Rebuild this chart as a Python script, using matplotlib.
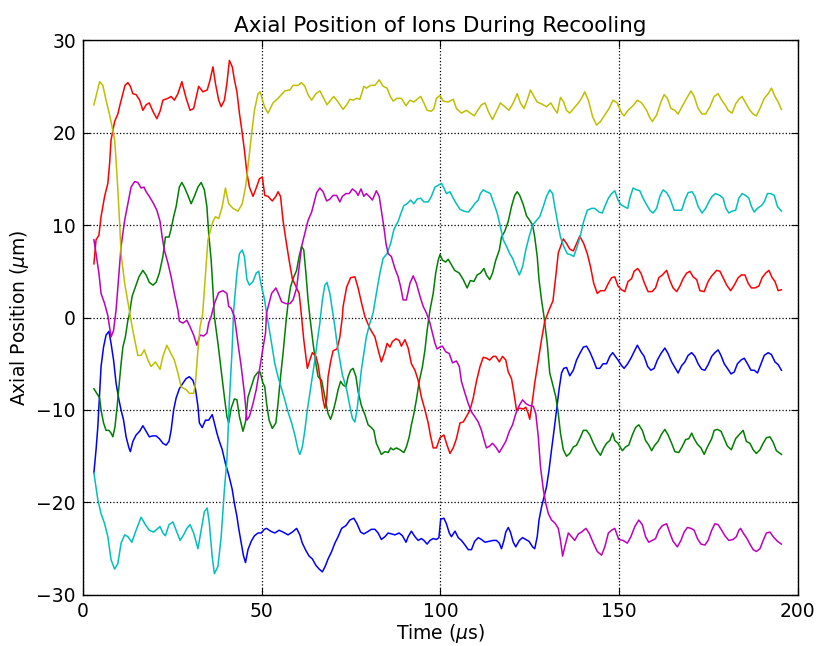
import numpy as np
import matplotlib
matplotlib.use('Agg')
import matplotlib.pyplot as plt

# Axial position of six ions during recooling

t_blue = [3.1, 3.7, 4.2, 4.7, 5.1, 5.8, 6.5, 7.3, 7.9, 8.6, 9.3, 10.1, 10.7, 11.4, 12.1, 12.9, 13.3, 14.0, 14.9, 15.9,
          16.8, 17.7, 18.6, 19.6, 20.5, 21.4, 22.4, 23.3, 24.1, 24.7, 25.4, 26.1, 27.0, 28.0, 28.9, 29.8, 30.8, 31.5,
          32.2, 32.6, 33.4, 34.3, 35.2, 36.2, 36.8, 37.5, 38.2, 39.0, 39.9, 40.8, 41.8, 42.4, 43.1, 43.6, 44.3, 44.9,
          45.5, 46.2, 47.1, 48.0, 49.0, 49.9, 50.8, 51.4, 52.5, 53.7, 54.9, 56.0, 57.4, 58.6, 59.8, 60.7, 61.4, 62.4,
          63.3, 64.2, 65.2, 66.1, 67.0, 67.8, 68.6, 69.6, 70.5, 71.4, 72.4, 73.6, 74.7, 75.8, 76.7, 77.7, 78.6, 79.5,
          80.7, 81.7, 82.6, 83.5, 84.5, 85.4, 86.3, 87.3, 88.5, 89.4, 90.4, 91.0, 91.9, 92.9, 93.8, 94.7, 95.4, 96.3,
          97.1, 98.0, 98.9, 99.6, 100.1, 101.0, 101.7, 102.5, 103.1, 104.1, 105.0, 105.9, 106.9, 107.8, 108.7, 109.6,
          110.6, 111.5, 112.5, 113.7, 114.8, 115.7, 116.5, 117.1, 117.8, 118.3, 119.0, 119.6, 120.4, 121.1, 122.1,
          123.0, 123.9, 124.8, 125.8, 126.4, 127.1, 127.6, 128.3, 129.0, 129.7, 130.4, 131.1, 131.8, 132.5, 133.2,
          133.9, 134.5, 135.3, 136.2, 137.2, 138.1, 139.0, 140.0, 140.9, 141.8, 142.8, 143.7, 144.6, 145.5, 146.5,
          147.4, 148.2, 149.7, 150.7, 151.4, 152.4, 153.3, 154.2, 155.1, 156.1, 157.0, 158.0, 158.9, 159.8, 160.7,
          161.7, 162.8, 163.7, 164.7, 165.6, 166.5, 167.5, 168.4, 169.3, 170.3, 171.2, 172.1, 173.1, 174.0, 174.9,
          175.9, 176.8, 177.7, 178.5, 179.4, 180.3, 181.3, 182.2, 183.1, 184.1, 185.0, 185.9, 186.9, 187.8, 188.7,
          189.6, 190.6, 191.7, 192.6, 193.6, 194.5, 195.4]
y_blue = [-16.8, -14.3, -11.8, -8.2, -5.3, -3.2, -1.9, -1.5, -2.8, -4.6, -7.1, -8.9, -10.0, -11.1, -12.9, -14.1, -14.5,
          -13.4, -12.7, -12.3, -11.7, -12.3, -12.9, -12.8, -12.8, -13.1, -13.6, -13.8, -13.4, -12.2, -10.0, -8.7, -7.7,
          -7.1, -6.6, -6.4, -6.8, -7.7, -9.6, -11.4, -11.9, -11.1, -11.1, -10.5, -11.4, -12.5, -13.4, -14.3, -15.8,
          -17.0, -18.6, -20.1, -21.5, -22.8, -24.4, -25.7, -26.5, -25.1, -24.2, -23.6, -23.3, -23.3, -22.9, -22.8,
          -23.1, -23.3, -23.0, -23.2, -23.5, -23.2, -22.8, -23.5, -24.4, -25.2, -25.8, -26.1, -26.8, -27.2, -27.5,
          -26.9, -26.1, -25.3, -24.4, -23.7, -22.8, -22.5, -21.9, -21.7, -22.3, -23.2, -23.4, -23.2, -22.9, -22.9,
          -23.3, -24.0, -23.7, -23.3, -23.4, -23.5, -23.3, -23.6, -24.3, -23.7, -23.1, -23.7, -24.1, -23.9, -24.1,
          -24.5, -24.1, -23.9, -24.0, -23.8, -21.8, -21.7, -22.3, -23.3, -23.7, -23.1, -23.8, -24.1, -24.6, -25.1,
          -25.1, -24.2, -23.8, -24.0, -24.3, -24.2, -24.1, -24.1, -24.4, -25.0, -24.1, -23.2, -22.7, -23.2, -24.3,
          -24.8, -24.1, -23.8, -24.0, -24.2, -24.8, -25.0, -23.7, -21.9, -20.5, -19.4, -18.3, -16.5, -14.3, -12.2,
          -10.0, -7.8, -6.0, -5.5, -5.4, -6.3, -5.7, -4.6, -3.9, -3.2, -3.1, -3.7, -4.6, -5.5, -5.5, -5.0, -5.0, -4.2,
          -3.8, -4.6, -5.2, -5.5, -5.0, -4.4, -3.7, -3.0, -3.7, -4.2, -5.3, -5.7, -5.5, -4.6, -3.9, -3.3, -3.9, -4.8,
          -5.4, -6.0, -5.2, -4.8, -4.1, -3.8, -4.2, -5.0, -5.6, -5.7, -5.1, -4.2, -3.8, -3.5, -4.1, -5.0, -5.5, -6.1,
          -5.9, -5.0, -4.6, -4.4, -5.0, -5.7, -5.7, -6.0, -5.1, -4.1, -3.8, -4.0, -4.8, -5.1, -5.7]

t_green = [3.1, 3.9, 4.7, 5.1, 5.8, 6.5, 7.3, 7.9, 8.4, 9.0, 9.6, 10.1, 10.7, 11.2, 11.9, 12.6, 12.9, 13.8, 14.7, 15.7,
           16.8, 17.7, 18.6, 19.6, 20.5, 21.4, 22.4, 23.1, 24.1, 24.7, 25.4, 26.1, 27.0, 27.7, 28.4, 29.4, 30.3, 31.2,
           32.2, 33.1, 34.0, 34.7, 35.2, 35.9, 36.4, 36.8, 37.8, 38.7, 39.6, 40.3, 40.8, 41.5, 42.4, 43.1, 43.8, 44.8,
           45.5, 46.2, 47.1, 48.0, 49.0, 49.6, 50.3, 50.9, 51.4, 52.1, 53.0, 54.0, 54.6, 55.3, 56.0, 56.8, 57.4, 58.1,
           58.8, 59.8, 60.5, 61.2, 61.8, 62.4, 63.0, 63.5, 64.4, 65.2, 65.8, 66.8, 67.7, 68.6, 69.3, 70.0, 70.8, 71.4,
           72.1, 72.8, 73.6, 74.2, 74.9, 75.6, 76.4, 77.0, 77.9, 78.9, 79.8, 80.7, 81.4, 82.1, 82.9, 83.5, 84.5, 85.4,
           86.1, 86.8, 87.7, 88.7, 89.8, 90.5, 91.3, 91.9, 92.6, 93.3, 94.1, 95.0, 95.7, 96.3, 97.1, 98.0, 98.7, 99.4,
           99.9, 100.6, 101.5, 102.2, 103.1, 104.0, 105.3, 106.4, 107.5, 108.4, 109.4, 110.3, 111.2, 112.2, 112.9,
           113.8, 114.6, 115.5, 116.5, 117.1, 118.0, 119.0, 119.9, 120.8, 121.5, 122.2, 123.2, 124.1, 125.0, 125.8,
           126.4, 127.1, 127.6, 128.3, 129.0, 129.9, 130.6, 131.6, 132.3, 133.0, 133.6, 134.4, 135.3, 136.2, 137.2,
           138.1, 139.0, 140.0, 140.9, 141.8, 142.8, 143.7, 144.8, 145.7, 146.5, 147.4, 148.2, 148.8, 149.7, 150.9,
           151.8, 152.7, 153.7, 154.6, 155.5, 156.5, 157.4, 158.3, 159.1, 160.0, 160.9, 161.9, 162.8, 163.7, 164.7,
           165.6, 166.7, 167.6, 168.6, 169.5, 170.3, 171.0, 171.9, 172.9, 173.8, 174.7, 175.9, 176.6, 177.5, 178.5,
           179.4, 180.3, 181.4, 182.6, 183.5, 184.7, 185.6, 186.6, 187.5, 188.4, 189.4, 190.3, 191.2, 192.2, 193.1,
           194.0, 195.4]
y_green = [-7.7, -8.2, -8.7, -10.0, -11.4, -12.2, -12.2, -12.5, -12.9, -11.8, -9.6, -7.5, -5.0, -3.2, -2.1, -0.3, 0.1,
           2.3, 3.3, 4.4, 5.1, 4.6, 3.8, 3.5, 3.8, 4.8, 6.6, 8.7, 8.7, 9.6, 10.9, 12.0, 14.1, 14.6, 14.1, 13.2, 12.3,
           13.1, 14.1, 14.6, 13.8, 12.0, 9.1, 6.2, 3.0, 0.1, -2.8, -5.7, -8.6, -10.7, -11.4, -9.8, -8.8, -8.9, -10.7,
           -12.3, -11.3, -8.6, -7.5, -6.4, -5.9, -5.9, -7.0, -7.5, -9.3, -11.1, -12.0, -11.4, -9.3, -6.4, -3.9, -0.6,
           1.5, 3.3, 4.2, 5.1, 6.6, 7.7, 7.3, 4.8, 1.9, 0.1, -2.8, -5.0, -6.4, -6.8, -8.6, -10.4, -11.0, -10.2, -8.9,
           -7.8, -6.9, -7.3, -7.5, -6.4, -5.7, -5.5, -6.4, -8.0, -9.5, -10.5, -11.6, -11.9, -12.2, -13.6, -14.3, -14.8,
           -14.5, -14.6, -14.1, -14.3, -14.1, -14.3, -14.6, -14.0, -12.9, -11.6, -10.4, -8.9, -6.9, -5.3, -3.5, -1.4,
           0.8, 2.6, 4.8, 6.2, 6.8, 6.2, 6.0, 6.3, 5.7, 5.1, 4.8, 4.1, 3.2, 4.0, 3.9, 4.6, 4.8, 5.3, 4.6, 4.1, 4.8,
           6.2, 7.3, 8.7, 9.3, 10.4, 12.0, 13.2, 13.6, 13.2, 12.2, 11.0, 10.5, 10.0, 8.7, 6.6, 4.1, 1.9, 0.1, -2.8,
           -6.0, -7.5, -8.6, -10.4, -12.5, -14.3, -15.0, -14.7, -14.0, -13.8, -13.1, -12.2, -12.2, -12.7, -13.6, -14.3,
           -14.9, -14.1, -13.6, -13.3, -12.5, -13.3, -13.6, -14.4, -14.0, -13.8, -12.7, -11.9, -11.6, -12.2, -13.3,
           -13.8, -14.4, -13.8, -13.4, -12.6, -12.1, -12.7, -13.6, -14.5, -14.6, -14.0, -13.2, -13.1, -12.5, -13.1,
           -13.7, -14.1, -14.8, -14.0, -13.1, -12.2, -12.1, -12.3, -13.1, -13.9, -14.3, -13.1, -12.7, -12.2, -13.4,
           -13.6, -14.3, -14.7, -14.3, -13.6, -13.0, -12.9, -13.5, -14.4, -14.8]

t_red = [3.1, 3.7, 4.5, 5.1, 6.1, 7.0, 7.5, 7.9, 8.9, 9.8, 10.4, 11.2, 11.8, 12.6, 13.3, 14.0, 14.9, 15.9, 16.8, 17.7,
         18.6, 19.6, 20.7, 21.6, 22.4, 23.8, 24.7, 25.6, 26.6, 27.7, 28.9, 30.0, 31.0, 32.4, 33.6, 34.8, 35.6, 36.4,
         37.1, 38.0, 38.7, 39.6, 40.3, 41.0, 41.8, 42.4, 43.1, 43.8, 44.6, 45.2, 45.9, 46.6, 47.6, 48.5, 49.4, 50.2,
         50.9, 51.8, 53.0, 54.0, 54.6, 55.3, 56.0, 56.8, 57.7, 58.6, 59.8, 60.5, 60.9, 61.2, 61.8, 62.8, 63.5, 64.2,
         65.2, 65.8, 66.5, 67.2, 67.7, 68.2, 68.6, 69.3, 70.0, 71.1, 71.9, 72.6, 72.8, 73.8, 74.9, 76.1, 77.0, 78.0,
         78.9, 80.3, 81.7, 82.6, 83.5, 84.5, 85.1, 85.9, 86.6, 87.6, 88.5, 89.1, 90.1, 91.0, 91.9, 92.9, 93.8, 94.7,
         95.7, 96.6, 97.2, 98.0, 98.9, 99.9, 101.0, 101.7, 102.7, 103.6, 104.5, 105.5, 106.4, 107.3, 108.3, 109.2,
         110.1, 111.1, 112.0, 112.9, 113.8, 114.8, 115.5, 116.5, 117.4, 118.3, 119.0, 119.9, 120.6, 121.3, 122.2,
         123.2, 123.9, 124.6, 125.0, 125.8, 126.4, 127.4, 128.3, 129.2, 130.5, 131.5, 132.3, 133.0, 134.4, 135.3,
         136.2, 137.2, 138.1, 139.0, 140.1, 141.1, 142.0, 142.9, 143.9, 144.8, 146.0, 147.0, 147.9, 148.8, 149.7,
         150.7, 151.6, 152.5, 153.5, 154.2, 155.2, 156.1, 157.0, 158.1, 159.2, 160.2, 161.1, 162.1, 163.3, 164.2,
         165.1, 166.1, 167.0, 167.9, 168.9, 169.8, 170.7, 171.7, 172.6, 173.8, 174.9, 175.9, 177.3, 178.2, 179.1,
         180.1, 181.2, 182.2, 183.3, 184.2, 185.2, 186.1, 187.0, 188.0, 189.1, 190.0, 191.0, 191.9, 192.8, 193.6,
         194.5, 195.4]
y_red = [5.8, 8.4, 8.9, 10.9, 13.1, 14.5, 16.7, 19.2, 21.2, 22.0, 23.0, 24.2, 25.1, 25.4, 25.0, 24.2, 24.1, 23.5, 22.4,
         23.0, 23.2, 22.3, 21.5, 22.3, 23.5, 23.7, 23.9, 23.5, 24.2, 25.5, 23.7, 22.4, 22.6, 25.0, 24.4, 24.6, 25.7,
         27.1, 25.3, 23.5, 22.8, 23.5, 25.3, 27.8, 27.1, 25.7, 24.4, 22.1, 19.9, 18.1, 15.6, 14.1, 13.1, 14.0, 15.0,
         15.2, 13.2, 13.1, 12.6, 13.1, 13.6, 13.1, 10.5, 8.4, 6.2, 4.2, 3.2, 2.6, 1.2, 0.0, -2.4, -5.5, -4.6, -3.8,
         -4.2, -5.1, -6.9, -8.9, -9.8, -8.9, -6.4, -4.8, -3.6, -3.4, -2.1, 0.1, 1.2, 3.3, 4.3, 4.4, 3.2, 1.5, 0.1,
         -1.2, -2.1, -3.5, -4.8, -3.7, -2.8, -3.2, -2.6, -2.3, -2.5, -3.1, -2.4, -3.3, -5.0, -5.7, -6.8, -8.6, -10.0,
         -11.4, -12.7, -14.1, -14.1, -13.0, -12.7, -13.6, -14.7, -14.1, -13.1, -11.4, -11.3, -10.7, -10.0, -8.7,
         -6.9, -5.3, -4.3, -4.4, -4.6, -4.2, -4.2, -4.8, -4.2, -4.6, -5.9, -6.6, -8.2, -10.0, -9.8, -9.9, -9.7,
         -10.4, -11.0, -8.9, -7.1, -4.6, -2.4, -0.4, 0.9, 1.8, 4.5, 7.0, 8.5, 8.0, 7.4, 7.2, 8.0, 8.8, 8.0, 6.9,
         5.5, 3.7, 2.6, 2.9, 2.9, 3.7, 4.3, 4.4, 3.4, 3.0, 2.8, 3.9, 4.2, 5.0, 5.3, 4.8, 3.8, 2.8, 2.8, 3.2, 4.3,
         4.6, 5.1, 4.0, 3.2, 2.8, 3.4, 4.2, 4.8, 5.0, 4.4, 4.1, 2.9, 2.8, 3.9, 4.5, 5.1, 5.0, 4.3, 3.5, 2.9, 3.5,
         4.3, 4.6, 4.6, 3.7, 3.2, 3.2, 3.4, 4.3, 4.8, 5.1, 4.3, 3.9, 2.9, 3.0]

t_cyan = [3.1, 4.2, 5.1, 6.1, 7.0, 7.9, 8.9, 9.8, 10.7, 11.7, 12.6, 13.7, 14.9, 16.3, 17.5, 18.6, 19.8, 21.0, 21.6,
          22.4, 23.1, 24.1, 25.2, 26.1, 27.2, 28.2, 29.1, 30.0, 31.0, 32.2, 33.1, 34.0, 34.8, 35.4, 36.2, 36.8, 37.8,
          38.7, 39.6, 40.3, 41.0, 41.7, 42.2, 43.1, 43.8, 44.6, 45.2, 45.9, 46.6, 47.6, 48.5, 49.2, 49.9, 50.8, 51.6,
          52.8, 53.7, 54.6, 55.6, 56.5, 57.4, 58.4, 59.3, 60.2, 60.7, 61.4, 62.1, 62.8, 63.5, 64.2, 64.9, 65.5, 66.3,
          67.0, 67.7, 68.3, 69.1, 69.8, 70.5, 71.1, 71.9, 72.6, 73.3, 73.9, 74.7, 75.4, 76.1, 76.7, 77.3, 77.9, 78.6,
          79.3, 80.3, 81.2, 82.1, 83.1, 84.0, 85.1, 86.1, 87.0, 88.2, 89.1, 89.8, 90.7, 91.7, 92.6, 93.5, 94.5, 95.4,
          96.6, 97.5, 98.5, 99.4, 100.3, 101.0, 101.7, 102.7, 103.6, 104.5, 105.5, 106.6, 107.8, 108.7, 109.6, 110.6,
          111.2, 112.0, 112.9, 114.0, 115.0, 115.9, 116.8, 117.6, 118.5, 119.4, 120.2, 121.1, 122.1, 123.0, 123.9,
          124.8, 125.8, 126.9, 127.8, 128.8, 129.7, 130.6, 131.4, 132.0, 132.7, 133.6, 134.5, 135.5, 136.4, 137.3,
          138.3, 139.2, 140.1, 141.1, 142.3, 143.2, 144.4, 145.3, 146.0, 147.0, 147.9, 148.8, 149.7, 150.5, 151.4,
          152.4, 153.0, 153.9, 154.9, 155.8, 156.7, 157.7, 158.6, 159.5, 160.5, 161.4, 162.3, 163.3, 164.2, 165.4,
          166.5, 167.5, 168.4, 169.3, 170.4, 171.2, 172.1, 173.2, 174.2, 175.1, 176.0, 177.0, 178.2, 179.1, 179.9,
          180.7, 181.6, 182.6, 183.5, 184.4, 185.4, 186.3, 187.0, 187.8, 188.7, 189.8, 190.6, 191.5, 192.4, 193.4,
          194.3, 195.4]
y_cyan = [-16.8, -19.7, -21.2, -22.3, -23.7, -26.2, -27.2, -26.6, -24.4, -23.5, -23.7, -24.3, -23.0, -21.6, -22.4,
          -23.0, -23.2, -22.8, -22.6, -23.3, -23.6, -22.4, -22.1, -23.0, -24.1, -23.5, -22.8, -22.4, -23.3, -25.0,
          -23.0, -21.0, -20.6, -22.3, -25.9, -27.7, -26.9, -23.7, -18.6, -15.4, -8.9, -3.9, 0.8, 4.8, 6.9, 7.3, 6.6,
          4.1, 3.5, 3.9, 4.8, 5.0, 3.5, 2.0, 0.0, -2.8, -5.0, -6.4, -7.7, -8.9, -10.2, -11.4, -12.7, -14.3, -14.8,
          -14.0, -12.2, -10.0, -8.2, -6.4, -4.6, -2.8, -0.6, 1.9, 3.5, 3.8, 2.6, 0.8, -1.0, -2.8, -4.6, -6.2, -7.1,
          -8.0, -9.6, -10.9, -11.3, -10.0, -7.8, -5.7, -3.9, -2.1, -0.6, 0.5, 2.6, 4.8, 6.4, 6.9, 8.0, 9.5, 10.4,
          11.4, 12.1, 12.3, 12.7, 12.3, 12.8, 12.9, 12.5, 12.5, 13.1, 14.1, 14.3, 14.5, 14.0, 13.4, 13.6, 12.9, 12.3,
          11.7, 11.5, 11.4, 11.8, 12.3, 12.7, 13.4, 13.8, 13.6, 13.4, 12.3, 11.3, 9.8, 8.4, 7.7, 6.9, 6.4, 5.5, 4.6,
          5.5, 7.3, 8.7, 10.0, 10.5, 10.9, 12.0, 13.1, 13.8, 13.4, 12.0, 10.5, 8.7, 7.7, 6.9, 6.8, 6.6, 7.7, 8.9,
          10.4, 11.6, 11.8, 11.8, 11.4, 11.3, 12.0, 12.9, 13.4, 13.7, 12.7, 12.2, 12.0, 11.8, 12.9, 14.0, 13.8, 13.7,
          12.9, 12.2, 11.6, 11.3, 11.8, 13.1, 13.8, 13.5, 12.9, 11.6, 11.6, 11.6, 12.7, 13.5, 13.6, 13.1, 12.0, 11.3,
          11.8, 12.5, 13.1, 13.4, 13.2, 12.9, 11.8, 11.3, 11.5, 11.6, 12.9, 13.4, 13.2, 12.9, 12.0, 11.4, 11.8, 12.1,
          12.5, 13.4, 13.4, 13.2, 12.0, 11.5]

t_magenta = [3.1, 3.7, 4.5, 5.1, 6.1, 7.0, 7.9, 8.6, 9.3, 10.1, 10.7, 11.7, 12.6, 13.5, 14.5, 15.4, 16.3, 17.1, 17.7,
             18.6, 19.8, 20.7, 21.6, 22.2, 22.8, 23.8, 24.7, 25.6, 26.6, 27.0, 28.0, 29.1, 30.0, 31.0, 31.9, 32.8,
             33.8, 34.7, 35.2, 35.9, 36.8, 38.0, 39.2, 40.3, 40.8, 41.5, 42.4, 43.4, 44.3, 45.2, 45.9, 46.6, 47.6,
             48.5, 49.4, 50.3, 51.1, 51.4, 52.8, 54.0, 54.9, 55.6, 56.8, 57.9, 58.8, 59.8, 60.5, 61.2, 62.1, 63.0,
             64.0, 64.6, 65.4, 66.3, 67.2, 68.2, 69.1, 70.0, 71.0, 71.9, 72.6, 73.6, 74.5, 75.4, 76.4, 77.0, 77.8,
             78.6, 79.3, 80.1, 81.0, 82.1, 82.9, 83.5, 84.2, 84.8, 85.4, 86.3, 87.3, 88.2, 88.9, 89.6, 90.5, 91.5,
             92.4, 93.3, 94.3, 95.2, 96.1, 97.1, 97.8, 98.5, 99.1, 99.9, 100.6, 101.5, 102.5, 103.4, 104.5, 105.3,
             105.9, 106.9, 107.8, 108.7, 109.6, 110.6, 111.5, 112.2, 112.9, 113.8, 114.6, 115.5, 116.5, 117.4, 118.3,
             119.3, 120.2, 121.1, 122.1, 123.0, 123.9, 124.8, 126.0, 126.7, 127.4, 128.0, 128.8, 129.5, 130.2, 131.1,
             132.0, 133.0, 133.6, 134.2, 134.8, 135.8, 136.7, 137.6, 138.6, 139.5, 140.7, 141.6, 142.8, 143.9, 145.1,
             146.0, 147.0, 147.9, 148.8, 149.9, 151.1, 152.3, 153.3, 154.4, 155.5, 156.5, 157.4, 158.3, 159.3, 160.2,
             161.1, 162.1, 163.3, 164.2, 165.1, 166.3, 167.3, 168.2, 169.1, 170.1, 171.0, 171.9, 172.9, 174.0, 174.9,
             175.9, 176.8, 177.7, 178.7, 179.6, 180.7, 181.9, 182.8, 183.5, 184.0, 184.7, 185.6, 186.6, 187.5, 188.4,
             189.4, 190.3, 191.2, 192.2, 193.1, 194.3, 195.4]
y_magenta = [8.4, 6.9, 4.8, 2.6, 1.5, 0.2, -2.1, -1.4, 0.8, 4.8, 7.7, 10.5, 12.3, 14.1, 14.7, 14.6, 14.0, 14.1, 13.6,
             13.1, 12.3, 11.6, 10.4, 8.7, 7.3, 5.9, 4.4, 2.6, 0.8, -0.4, -0.6, -0.3, -1.0, -1.9, -3.0, -1.9, -2.0,
             -1.7, -0.6, 0.1, 1.5, 2.7, 2.9, 2.6, 1.2, 1.0, 0.1, -2.8, -5.3, -8.2, -11.1, -10.7, -9.3, -7.8, -5.7,
             -3.5, -1.7, 0.5, 2.6, 3.2, 2.4, 1.7, 1.5, 1.5, 1.9, 3.2, 5.5, 7.7, 9.1, 10.5, 11.4, 12.3, 13.5, 14.0,
             13.6, 12.6, 12.8, 13.2, 13.2, 12.5, 13.1, 13.4, 13.4, 13.9, 13.6, 13.2, 13.9, 13.1, 13.4, 13.1, 12.7,
             13.7, 13.1, 11.6, 9.8, 8.0, 6.9, 6.6, 5.3, 4.4, 3.3, 1.9, 1.9, 3.7, 4.5, 3.7, 2.3, 1.2, 0.5, -0.6, -1.7,
             -2.8, -3.4, -3.2, -3.1, -3.7, -3.9, -4.9, -4.7, -5.3, -6.9, -8.2, -9.3, -10.2, -10.7, -11.3, -12.2,
             -13.2, -14.1, -13.9, -13.6, -14.0, -14.6, -14.0, -13.4, -12.3, -11.6, -10.4, -9.5, -8.9, -9.3, -9.5,
             -9.6, -10.4, -12.9, -16.1, -18.6, -20.1, -21.2, -21.9, -22.2, -22.8, -24.1, -25.8, -24.8, -23.3, -23.7,
             -24.1, -23.4, -23.2, -22.8, -23.3, -24.4, -25.3, -25.7, -24.8, -23.3, -23.0, -22.8, -24.0, -24.1, -24.4,
             -23.7, -22.6, -21.9, -22.4, -23.7, -24.3, -24.1, -23.9, -23.0, -22.5, -22.3, -23.3, -24.2, -24.8, -24.1,
             -23.2, -22.7, -22.8, -23.0, -23.9, -24.5, -24.6, -24.1, -23.0, -22.3, -22.4, -23.0, -23.6, -24.1, -24.0,
             -23.7, -23.0, -22.8, -23.3, -23.8, -24.5, -25.1, -25.3, -25.0, -24.1, -23.3, -23.2, -23.7, -24.2, -24.5]

t_yellow = [3.1, 4.7, 5.6, 6.5, 7.5, 8.2, 8.9, 9.3, 9.8, 10.3, 10.7, 11.7, 12.9, 13.8, 14.5, 15.4, 16.3, 17.2, 18.2,
            19.1, 20.3, 21.6, 22.4, 23.5, 24.4, 25.6, 26.6, 27.5, 28.9, 29.8, 31.0, 31.5, 32.2, 32.8, 33.5, 35.0,
            36.4, 37.1, 38.0, 39.0, 39.9, 40.8, 42.0, 43.4, 44.6, 45.5, 46.2, 47.1, 48.0, 49.0, 49.6, 50.8, 51.8,
            53.2, 54.6, 56.5, 57.9, 58.8, 60.2, 61.2, 62.1, 63.0, 64.0, 65.2, 66.3, 67.4, 68.3, 69.3, 70.2, 71.4,
            72.8, 73.8, 74.7, 75.6, 76.6, 77.5, 78.6, 79.3, 80.5, 81.7, 82.9, 84.0, 85.1, 86.0, 86.8, 87.9, 89.1,
            90.4, 91.5, 92.6, 93.5, 94.5, 95.4, 96.3, 97.5, 98.2, 98.9, 99.9, 100.8, 102.2, 103.6, 104.5, 105.9,
            107.3, 108.4, 109.5, 110.6, 111.5, 112.5, 113.4, 114.6, 115.7, 116.8, 118.0, 119.2, 120.4, 121.5, 122.4,
            123.4, 124.3, 125.2, 126.2, 127.1, 128.3, 129.7, 130.9, 131.8, 132.7, 133.6, 134.5, 135.3, 136.2, 137.3,
            138.6, 139.5, 140.4, 141.4, 142.6, 143.7, 144.8, 146.0, 147.2, 148.3, 149.5, 150.7, 151.4, 152.5, 153.9,
            155.1, 156.3, 157.7, 158.6, 159.3, 160.5, 161.7, 162.6, 163.5, 164.5, 165.6, 166.5, 167.6, 168.9, 170.1,
            171.0, 172.1, 173.2, 174.2, 175.4, 176.6, 177.7, 178.7, 179.8, 180.5, 181.6, 182.6, 183.5, 184.4, 185.4,
            186.6, 187.5, 188.4, 189.4, 190.6, 191.7, 192.6, 193.6, 194.5, 195.4]
y_yellow = [23.0, 25.5, 25.1, 23.5, 21.9, 20.6, 19.2, 17.0, 13.8, 10.2, 6.9, 3.7, 1.0, -1.0, -2.4, -4.1, -4.1, -3.5,
            -4.6, -5.3, -4.8, -5.6, -4.2, -3.0, -3.7, -4.6, -6.0, -7.5, -7.8, -8.2, -8.2, -7.1, -3.5, -1.0, 0.3, 8.4,
            10.4, 10.9, 10.7, 12.0, 14.0, 12.3, 11.8, 11.5, 12.3, 14.1, 16.3, 19.5, 22.4, 24.2, 24.4, 22.8, 22.1,
            23.2, 23.7, 24.5, 24.6, 25.1, 25.1, 25.4, 25.0, 24.1, 23.5, 24.2, 24.5, 23.7, 23.0, 23.5, 23.9, 23.3,
            22.5, 23.0, 23.6, 23.5, 23.7, 23.6, 25.0, 24.8, 25.1, 25.1, 25.7, 25.0, 24.8, 23.9, 23.4, 23.7, 23.7,
            22.9, 23.5, 23.3, 23.6, 23.9, 23.2, 22.4, 22.3, 22.6, 23.7, 24.0, 23.4, 23.3, 23.6, 22.6, 22.1, 22.4,
            22.1, 21.8, 22.5, 23.0, 23.2, 22.3, 21.4, 22.3, 23.2, 22.8, 22.4, 23.2, 24.2, 23.2, 22.6, 23.5, 24.6,
            23.9, 23.3, 23.1, 22.8, 23.2, 22.6, 22.1, 23.8, 23.3, 22.4, 22.1, 22.6, 23.2, 23.7, 24.4, 23.5, 21.7,
            20.8, 21.2, 21.9, 22.6, 23.5, 23.2, 22.1, 21.8, 22.4, 22.9, 23.5, 23.2, 22.4, 21.6, 21.2, 21.9, 23.3,
            24.1, 23.7, 22.6, 22.4, 22.0, 22.8, 23.7, 24.5, 23.9, 22.6, 22.0, 22.0, 22.8, 23.9, 24.2, 23.5, 22.9,
            22.4, 22.1, 23.1, 23.6, 23.9, 23.2, 22.4, 22.0, 21.8, 22.6, 23.7, 24.2, 24.8, 23.9, 23.3, 22.5]

series = [(t_blue, y_blue, 'b'), (t_green, y_green, 'g'), (t_red, y_red, 'r'),
          (t_cyan, y_cyan, 'c'), (t_magenta, y_magenta, 'm'), (t_yellow, y_yellow, 'y')]

plt.rcParams['xtick.direction'] = 'in'
plt.rcParams['ytick.direction'] = 'in'
plt.rcParams['xtick.top'] = True
plt.rcParams['ytick.right'] = True
plt.rcParams['axes.unicode_minus'] = True

fig = plt.figure(figsize=(8.2, 6.46), dpi=100)
ax = fig.add_axes([0.101, 0.079, 0.872, 0.859])

for t, y, c in series:
    ax.plot(t, y, color=c, linewidth=1.1)

ax.set_xlim(0, 200)
ax.set_ylim(-30, 30)
ax.set_xticks([0, 50, 100, 150, 200])
ax.set_yticks([-30, -20, -10, 0, 10, 20, 30])
ax.tick_params(labelsize=13.5, length=5, width=0.8, pad=5)
ax.grid(True, linestyle=':', color='k', linewidth=0.9)
for s in ax.spines.values():
    s.set_linewidth(1.0)

ax.set_title('Axial Position of Ions During Recooling', fontsize=15.5, pad=6)
ax.set_xlabel(r'Time ($\mu$s)', fontsize=13.5, labelpad=1)
ax.set_ylabel(r'Axial Position ($\mu$m)', fontsize=13.5, labelpad=4)

fig.savefig('out.png', dpi=100)
